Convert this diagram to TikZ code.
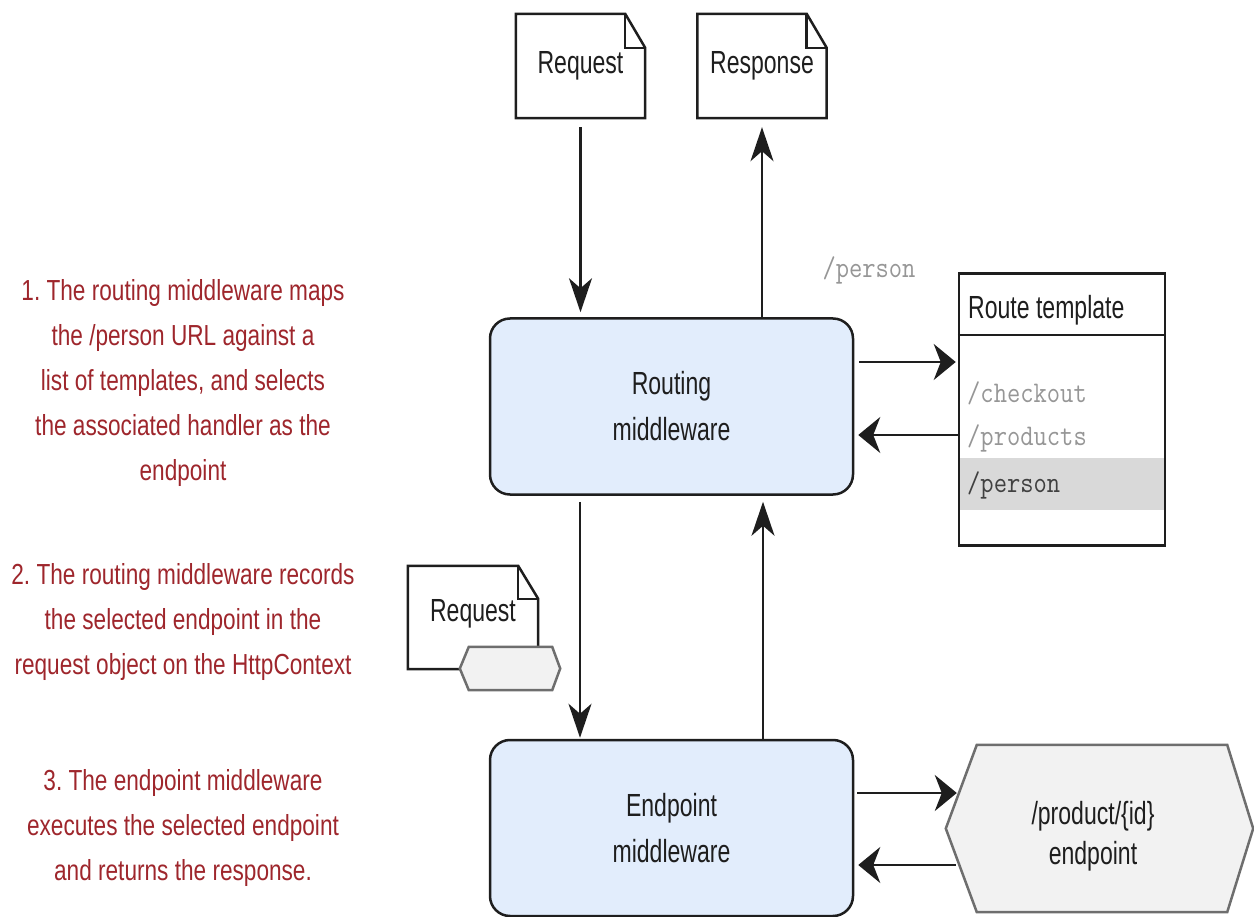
\documentclass[tikz,border=0pt]{standalone}
\usepackage{fontspec}
\setmainfont[FakeStretch=0.72]{Liberation Sans}
\newfontfamily\notefont[FakeStretch=0.78]{Liberation Sans}
\setmonofont[FakeStretch=0.86]{Latin Modern Mono}
\usetikzlibrary{arrows.meta,calc,backgrounds}
\frenchspacing

\definecolor{boxblue}{RGB}{226,237,252}
\definecolor{notered}{RGB}{158,38,44}
\definecolor{hexfill}{RGB}{242,242,242}
\definecolor{hexline}{RGB}{110,110,110}
\definecolor{hlgray}{RGB}{217,217,217}
\definecolor{mutedgray}{RGB}{150,150,150}
\definecolor{ink}{RGB}{30,30,30}

\begin{document}
\begin{tikzpicture}[x=1pt,y=-1pt,
  lbl/.style={font=\fontsize{32}{46}\selectfont, text=ink, align=center},
  mw/.style={lbl, draw=ink, line width=2.5pt, rounded corners=20pt, fill=boxblue,
             minimum width=363pt, minimum height=176pt, inner sep=0pt},
  docnode/.style={lbl, minimum width=129pt, minimum height=104pt, inner sep=0pt},
  docline/.style={draw=ink, line width=2.5pt, line join=miter},
  hexshape/.style={draw=hexline, fill=hexfill, line width=2.5pt},
  mono/.style={font=\ttfamily\fontsize{30}{34}\selectfont, inner sep=0pt},
  note/.style={font=\notefont\fontsize{29}{45}\selectfont, text=notered, align=center},
  harrow/.style={draw=ink, line width=2.5pt, -{Stealth[length=22pt,width=36pt,inset=7pt]}},
  varrow/.style={draw=ink, line width=2.2pt, -{Stealth[length=34pt,width=23pt,inset=10pt]}},
]
\useasboundingbox (0,0) rectangle (1254,917);

% explanatory notes on the left
\node[note] (n1) at (183,383) {1. The routing middleware maps\\the /person URL against a\\list of templates, and selects\\the associated handler as the\\endpoint};
\node[note] (n2) at (183,622) {2. The routing middleware records\\the selected endpoint in the\\request object on the HttpContext};
\node[note] (n3) at (183,828) {3. The endpoint middleware\\executes the selected endpoint\\and returns the response.};

% request / response documents
\node[docnode] (req) at (580.5,66) {Request};
\node[docnode] (resp) at (762,66) {Response};
\foreach \d in {req,resp}{
  \draw[docline] (\d.south west) -- (\d.north west) -- ($(\d.north east)+(-20,0)$)
     -- ($(\d.north east)+(0,34)$) -- (\d.south east) -- cycle;
  \draw[docline] ($(\d.north east)+(-20,0)$) -- ($(\d.north east)+(-20,34)$) -- ($(\d.north east)+(0,34)$);
}

% middleware boxes
\node[mw] (routing) at (671.5,406.5) {Routing\\middleware};
\node[mw] (endpoint) at (671.5,828) {Endpoint\\middleware};

% route template table
\fill[hlgray] (959,458) rectangle (1165,510);
\node[draw=ink, line width=2.5pt, minimum width=206pt, minimum height=272pt, inner sep=0pt] (rt) at (1062,409.5) {};
\draw[docline] ($(rt.north west)+(0,63)$) -- ($(rt.north east)+(0,63)$);
\node[lbl, anchor=west, inner sep=0pt] (rthead) at (968,310) {Route template};
\node[mono, text=mutedgray, anchor=west] (t1) at (967,393) {/checkout};
\node[mono, text=mutedgray, anchor=west] (t2) at (967,438) {/products};
\node[mono, text=black!75, anchor=west] (t3) at (967,485) {/person};
\node[mono, text=mutedgray] (url) at (869,270) {/person};

% request carrying the selected endpoint
\node[docnode, minimum width=130pt, minimum height=103pt] (req2) at (473,617.5) {};
\node[lbl] (req2txt) at (473,614) {Request};
\draw[docline] (req2.south west) -- (req2.north west) -- ($(req2.north east)+(-20,0)$)
   -- ($(req2.north east)+(0,33)$) -- (req2.south east) -- cycle;
\draw[docline] ($(req2.north east)+(-20,0)$) -- ($(req2.north east)+(-20,33)$) -- ($(req2.north east)+(0,33)$);
\node[minimum width=100pt, minimum height=43pt, inner sep=0pt] (tag) at (510,668.5) {};
\draw[hexshape] (tag.west) -- ($(tag.north west)+(9,0)$) -- ($(tag.north east)+(-8,0)$)
   -- (tag.east) -- ($(tag.south east)+(-8,0)$) -- ($(tag.south west)+(9,0)$) -- cycle;

% selected endpoint
\node[minimum width=307pt, minimum height=167pt, inner sep=0pt] (ep) at (1099.5,828.5) {};
\draw[hexshape] (ep.west) -- ($(ep.north west)+(31,0)$) -- ($(ep.north east)+(-26,0)$)
   -- (ep.east) -- ($(ep.south east)+(-26,0)$) -- ($(ep.south west)+(31,0)$) -- cycle;
\node[lbl, font=\fontsize{32}{40}\selectfont] (eptxt) at (1093,836) {/product/\{id\}\\endpoint};

% vertical flow
\draw[varrow, shorten <=9pt, shorten >=5pt] (req.south) -- (req.south |- routing.north);
\draw[varrow, shorten >=9pt] (resp.south |- routing.north) -- (resp.south);
\coordinate (dn) at ([xshift=-91.5pt]routing.south);
\coordinate (up) at ([xshift=91.5pt]endpoint.north);
\draw[varrow, shorten <=6pt, shorten >=1pt] (dn) -- (dn |- endpoint.north);
\draw[varrow, shorten >=6pt] (up) -- (up |- routing.south);

% routing <-> route template
\coordinate (ra) at ([yshift=44.5pt]routing.east);
\coordinate (rb) at ([yshift=-28.5pt]routing.east);
\draw[harrow, shorten <=5pt, shorten >=2pt] (ra) -- (ra -| rt.west);
\draw[harrow, shorten >=4pt] (rb -| rt.west) -- (rb);

% endpoint middleware <-> endpoint
\coordinate (ea) at ([yshift=35pt]endpoint.east);
\coordinate (eb) at ([yshift=-37pt]endpoint.east);
\coordinate (eaend) at ($(ea -| ep.west)+(11,0)$);
\coordinate (ebend) at ($(eb -| ep.west)+(10,0)$);
\draw[harrow, shorten <=3pt] (ea) -- (eaend);
\draw[harrow, shorten >=4pt] (ebend) -- (eb);
\end{tikzpicture}
\end{document}
